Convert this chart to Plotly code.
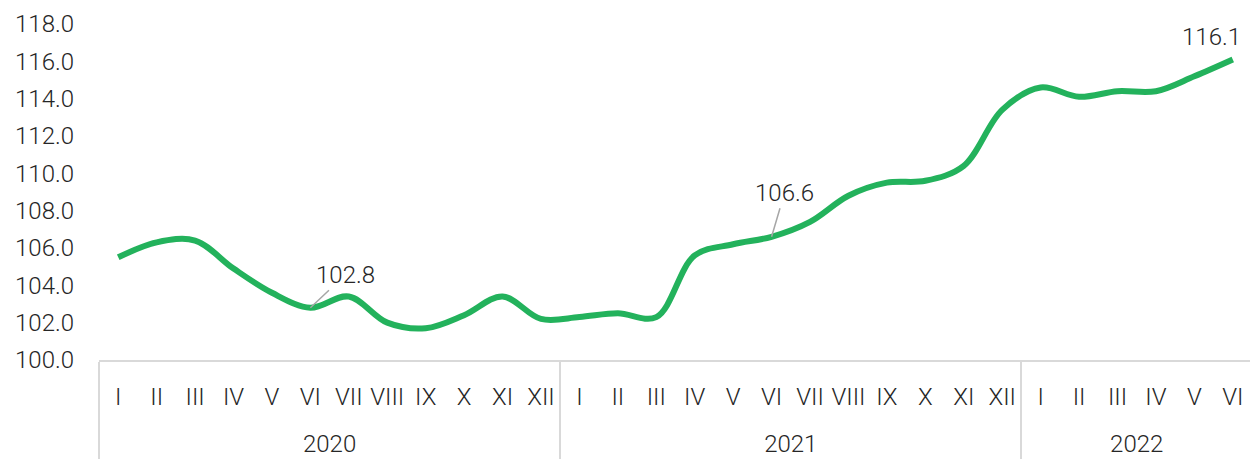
import plotly.graph_objects as go

years = ["2020"] * 12 + ["2021"] * 12 + ["2022"] * 6
months = ["I", "II", "III", "IV", "V", "VI", "VII", "VIII", "IX", "X", "XI", "XII"] * 2 + ["I", "II", "III", "IV", "V", "VI"]
values = [105.5, 106.3, 106.4, 104.9, 103.6, 102.8, 103.4, 102.0, 101.7, 102.4, 103.4, 102.2,
          102.3, 102.5, 102.3, 105.6, 106.2, 106.6, 107.4, 108.8, 109.5, 109.6, 110.4, 113.4,
          114.6, 114.1, 114.4, 114.4, 115.2, 116.1]

# labelled points: (year, month)
labelled = [("2020", "VI"), ("2021", "VI"), ("2022", "VI")]

GREEN = "#23B25C"
TXT = "#262626"
FONT = "Roboto"
FS = 24

# month tick labels get an extra blank line so the year row sits lower
month_labels = [m + "<br>\u00a0" for m in months]

fig = go.Figure()
fig.add_trace(go.Scatter(
    x=[years, month_labels], y=values, mode="lines",
    line=dict(color=GREEN, width=6, shape="spline", smoothing=1.0),
    hoverinfo="skip",
))

def idx(y, m):
    for i, (yy, mm) in enumerate(zip(years, months)):
        if yy == y and mm == m:
            return i

offsets = [(35, -33, True), (13, -44, True), (-21, -22, False)]
for (y, m), (ax, ay, arrow) in zip(labelled, offsets):
    i = idx(y, m)
    if arrow:
        fig.add_annotation(x=i, y=values[i], text=f"{values[i]:.1f}", showarrow=True,
                           arrowhead=0, arrowwidth=1.5, arrowcolor="#A6A6A6", ax=ax, ay=ay,
                           font=dict(size=FS, color=TXT, family=FONT, weight=300))
    else:
        fig.add_annotation(x=i, y=values[i], text=f"{values[i]:.1f}", showarrow=False,
                           xshift=ax, yshift=-ay,
                           font=dict(size=FS, color=TXT, family=FONT, weight=300))

fig.update_layout(
    width=1250, height=451,
    margin=dict(l=91, r=6, t=16, b=99),
    paper_bgcolor="white", plot_bgcolor="white",
    showlegend=False,
    font=dict(family=FONT, size=FS, color=TXT, weight=300),
)
fig.update_xaxes(
    type="multicategory", range=[-0.5, len(values) - 0.5], automargin=False,
    showgrid=False, zeroline=False,
    showline=True, linecolor="#D9D9D9", linewidth=2,
    showdividers=True, dividercolor="#D9D9D9", dividerwidth=2,
    ticks="", ticklabelstandoff=14, tickangle=0,
    tickfont=dict(size=FS, color=TXT, family=FONT, weight=300),
)
fig.update_yaxes(
    range=[100, 118], dtick=2, tickformat=".1f", automargin=False,
    showgrid=False, zeroline=False,
    showline=False, ticks="", ticklabelstandoff=24,
    tickfont=dict(size=FS, color=TXT, family=FONT, weight=300),
)

fig.write_html("out.html")
